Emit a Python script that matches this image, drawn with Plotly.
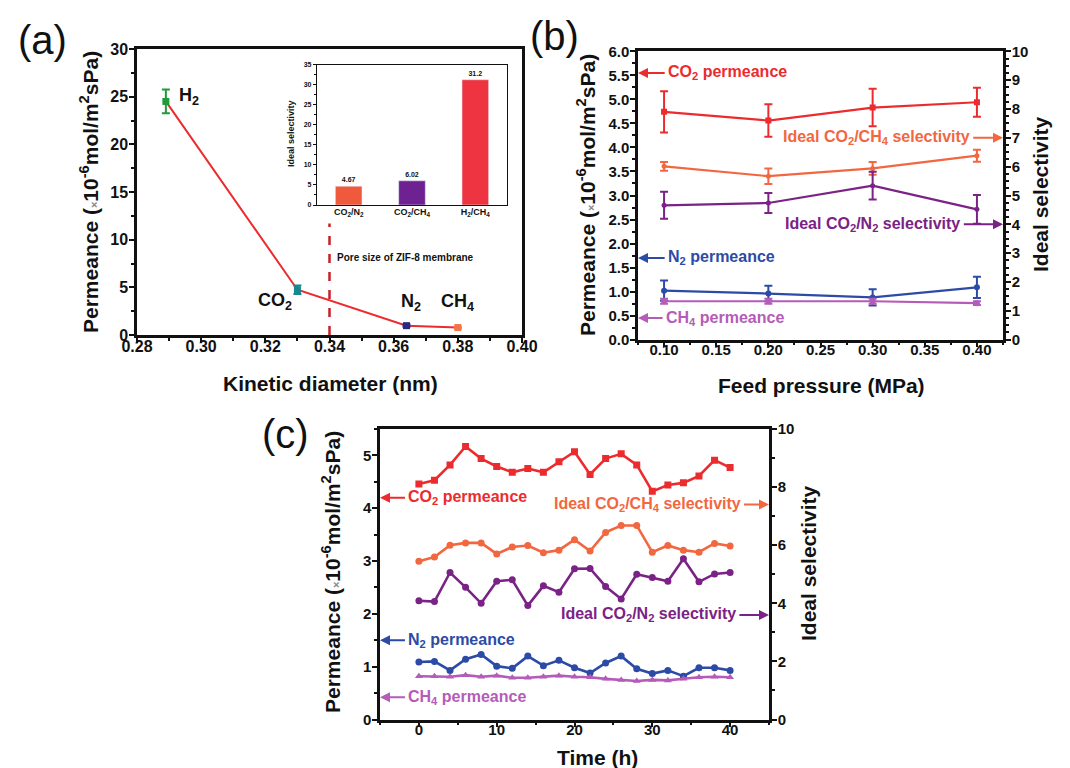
import plotly.graph_objects as go

# ---------------- data ----------------
# (a) permeance vs kinetic diameter
gases_a = ["H2", "CO2", "N2", "CH4"]
kin_diam = [0.289, 0.330, 0.364, 0.380]
perm_a = [24.5, 4.75, 0.98, 0.78]
perm_a_err = [1.25, 0.45, 0.12, 0.06]
pore_size = 0.34
pore_line_top = 11.7

# (a) inset
inset_cats = ["CO<sub>2</sub>/N<sub>2</sub>", "CO<sub>2</sub>/CH<sub>4</sub>", "H<sub>2</sub>/CH<sub>4</sub>"]
inset_vals = [4.67, 6.02, 31.2]
inset_text = ["4.67", "6.02", "31.2"]

# (b) feed pressure
pressure = [0.10, 0.20, 0.30, 0.40]
co2_b = [4.74, 4.56, 4.83, 4.94]
co2_b_err = [0.43, 0.34, 0.39, 0.30]
n2_b = [1.02, 0.96, 0.88, 1.09]
n2_b_err = [0.21, 0.16, 0.17, 0.22]
ch4_b = [0.80, 0.80, 0.80, 0.76]
ch4_b_err = [0.05, 0.05, 0.05, 0.04]
selCH4_b = [6.01, 5.67, 5.94, 6.38]
selCH4_b_err = [0.15, 0.27, 0.22, 0.21]
selN2_b = [4.66, 4.74, 5.34, 4.52]
selN2_b_err = [0.47, 0.35, 0.48, 0.50]

# (c) time stability
time_h = [0, 2, 4, 6, 8, 10, 12, 14, 16, 18, 20, 22, 24, 26, 28, 30, 32, 34, 36, 38, 40]
co2_c = [4.46, 4.53, 4.82, 5.17, 4.94, 4.79, 4.68, 4.75, 4.68, 4.88, 5.07, 4.64, 4.94, 5.03, 4.82,
         4.32, 4.44, 4.48, 4.61, 4.91, 4.77]
n2_c = [1.09, 1.10, 0.93, 1.14, 1.23, 1.01, 0.97, 1.20, 1.02, 1.12, 0.98, 0.88, 1.07, 1.20, 0.96,
        0.87, 0.93, 0.82, 0.98, 0.98, 0.93]
ch4_c = [0.82, 0.82, 0.81, 0.84, 0.81, 0.83, 0.79, 0.79, 0.81, 0.83, 0.81, 0.80, 0.77, 0.75, 0.73,
         0.75, 0.74, 0.77, 0.80, 0.81, 0.80]
selCH4_c = [5.45, 5.59, 6.00, 6.08, 6.08, 5.70, 5.94, 5.99, 5.74, 5.83, 6.19, 5.80, 6.44, 6.68, 6.68,
            5.76, 5.99, 5.83, 5.76, 6.06, 5.97]
selN2_c = [4.09, 4.06, 5.06, 4.55, 4.00, 4.76, 4.81, 3.92, 4.60, 4.38, 5.19, 5.20, 4.58, 4.15, 5.00,
           4.89, 4.76, 5.53, 4.74, 5.01, 5.06]

# ---------------- styles ----------------
FONT = "Liberation Sans, Arial, sans-serif"
RED = "#ec2b2e"
ORANGE = "#f2673f"
PURPLE = "#7a2286"
BLUE = "#2c4ba6"
MAGENTA = "#b55bb8"
BLACK = "#111111"

W, H = 1070, 768


def px2x(p):
    return p / W


def px2y(p):
    return 1 - p / H


def tickfont(size=16):
    return dict(family=FONT, size=size, color=BLACK, weight="bold")


def minor(dtick, ticklen=3, width=2):
    return dict(dtick=dtick, ticks="outside", ticklen=ticklen, tickcolor=BLACK, tickwidth=width)


def axis_common(**kw):
    d = dict(showline=True, linecolor=BLACK, linewidth=2.5, ticks="outside", ticklen=5,
             tickwidth=2, tickcolor=BLACK, showgrid=False, zeroline=False, automargin=False,
             tickfont=tickfont())
    d.update(kw)
    return d


fig = go.Figure()

# ---------------- panel (a) ----------------
fig.add_trace(go.Scatter(x=kin_diam, y=perm_a, mode="lines", line=dict(color=RED, width=2),
                         xaxis="x", yaxis="y", showlegend=False, hoverinfo="skip"))
gas_colors = ["#1f9a3c", "#17888c", "#262a80", "#f27447"]
for i, g in enumerate(gases_a):
    fig.add_trace(go.Scatter(x=[kin_diam[i]], y=[perm_a[i]], mode="markers",
                             marker=dict(symbol="square", size=7, color=gas_colors[i]),
                             error_y=dict(type="data", array=[perm_a_err[i]], color=gas_colors[i],
                                          thickness=2, width=4),
                             xaxis="x", yaxis="y", showlegend=False, name=g))
fig.add_trace(go.Scatter(x=[pore_size, pore_size], y=[0, pore_line_top], mode="lines",
                         line=dict(color="#c8202a", width=2.5, dash="dash"),
                         xaxis="x", yaxis="y", showlegend=False, hoverinfo="skip"))

# inset bars
fig.add_trace(go.Bar(x=inset_cats, y=inset_vals, marker=dict(color=["#f05a3c", "#6e2191", "#ee3440"]),
                     width=0.42, text=inset_text, textposition="outside",
                     textfont=dict(family=FONT, size=7, color=BLACK, weight="bold"),
                     cliponaxis=False, xaxis="x2", yaxis="y2", showlegend=False))

# ---------------- panel (b) ----------------
def b_trace(y, err, color, symbol, yaxis, size=6):
    return go.Scatter(x=pressure, y=y, mode="lines+markers", line=dict(color=color, width=2.2),
                      marker=dict(symbol=symbol, size=size, color=color),
                      error_y=dict(type="data", array=err, color=color, thickness=2, width=4),
                      xaxis="x3", yaxis=yaxis, showlegend=False)


fig.add_trace(b_trace(co2_b, co2_b_err, RED, "square", "y3"))
fig.add_trace(b_trace(n2_b, n2_b_err, BLUE, "circle", "y3"))
fig.add_trace(b_trace(ch4_b, ch4_b_err, MAGENTA, "circle", "y3"))
fig.add_trace(b_trace(selCH4_b, selCH4_b_err, ORANGE, "circle", "y4", 5))
fig.add_trace(b_trace(selN2_b, selN2_b_err, PURPLE, "circle", "y4", 5))

# ---------------- panel (c) ----------------
def c_trace(y, color, symbol, yaxis, size=7):
    return go.Scatter(x=time_h, y=y, mode="lines+markers", line=dict(color=color, width=2.6),
                      marker=dict(symbol=symbol, size=size, color=color),
                      xaxis="x4", yaxis=yaxis, showlegend=False)


fig.add_trace(c_trace(co2_c, RED, "square", "y5", 7))
fig.add_trace(c_trace(n2_c, BLUE, "circle", "y5", 7))
fig.add_trace(c_trace(ch4_c, MAGENTA, "triangle-up", "y5", 7))
fig.add_trace(c_trace(selCH4_c, ORANGE, "circle", "y6", 7))
fig.add_trace(c_trace(selN2_c, PURPLE, "circle", "y6", 7))

# ---------------- axes ----------------
XSTAND = -10
YSTAND = -2
fig.update_layout(
    # (a)
    xaxis=axis_common(domain=[px2x(129), px2x(514)], range=[0.28, 0.40], dtick=0.02, tick0=0.28,
                      tickformat=".2f", mirror=True, anchor="y", ticklabelstandoff=XSTAND,
                      minor=minor(0.01)),
    yaxis=axis_common(domain=[px2y(327), px2y(41)], range=[0, 30], dtick=5, mirror=True, anchor="x",
                      ticklabelstandoff=YSTAND, minor=minor(2.5)),
    # inset
    xaxis2=axis_common(domain=[px2x(309), px2x(499)], anchor="y2", mirror=True, linewidth=1.2,
                       ticks="", tickfont=tickfont(9), type="category", ticklabelstandoff=-2),
    yaxis2=axis_common(domain=[px2y(197), px2y(56.5)], range=[0, 35], dtick=5, anchor="x2",
                       mirror=True, linewidth=1.2, ticklen=3, tickwidth=1, tickfont=tickfont(7),
                       minor=minor(2.5, 2, 1)),
    # (b)
    xaxis3=axis_common(domain=[px2x(630), px2x(995)], range=[0.075, 0.425], dtick=0.05, tick0=0.1,
                       tickformat=".2f", anchor="y3", mirror=True, tickfont=tickfont(15),
                       ticklabelstandoff=XSTAND, minor=minor(0.025)),
    yaxis3=axis_common(domain=[px2y(331.7), px2y(43.3)], range=[0, 6], dtick=0.5, tickformat=".1f",
                       anchor="x3", tickfont=tickfont(15), ticklabelstandoff=YSTAND,
                       minor=minor(0.25)),
    yaxis4=axis_common(range=[0, 10], dtick=1, overlaying="y3", side="right", anchor="x3",
                       tickfont=tickfont(15), ticklabelstandoff=YSTAND, minor=minor(0.25)),
    # (c)
    xaxis4=axis_common(domain=[px2x(372), px2x(761)], range=[-5, 45], dtick=10, tick0=0,
                       anchor="y5", mirror=True, tickfont=tickfont(15), ticklabelstandoff=XSTAND,
                       minor=minor(5)),
    yaxis5=axis_common(domain=[px2y(711.5), px2y(421)], range=[0, 5.5], dtick=1, anchor="x4",
                       tickfont=tickfont(15), ticklabelstandoff=YSTAND, minor=minor(0.5)),
    yaxis6=axis_common(range=[0, 10], dtick=2, overlaying="y5", side="right", anchor="x4",
                       tickfont=tickfont(15), ticklabelstandoff=YSTAND, minor=minor(1)),
)

# ---------------- annotations ----------------
ann = []
PERM_TITLE = ("<b>Permeance (<span style='font-size:11px;color:#888'>×</span>10<sup>-6</sup>"
              "mol/m<sup>2</sup>sPa)</b>")


def text_ann(text, x, y, xref="paper", yref="paper", size=21, color=BLACK, xanchor="center",
             yanchor="middle", angle=0, weight="bold"):
    ann.append(dict(text=text, x=x, y=y, xref=xref, yref=yref, showarrow=False, xanchor=xanchor,
                    yanchor=yanchor, textangle=angle,
                    font=dict(family=FONT, size=size, color=color, weight=weight)))


def arrow_ann(x_head, x_tail, y, xref, yref, color):
    ann.append(dict(text="", x=x_head, y=y, ax=x_tail, ay=y, xref=xref, yref=yref,
                    axref=xref, ayref=yref, showarrow=True, arrowhead=2, arrowsize=1,
                    arrowwidth=2, arrowcolor=color, standoff=0, startstandoff=0))


# panel labels
text_ann("(a)", px2x(8), px2y(32), size=40, xanchor="left", weight="normal")
text_ann("(b)", px2x(520), px2y(28), size=40, xanchor="left", weight="normal")
text_ann("(c)", px2x(252), px2y(426), size=40, xanchor="left", weight="normal")

# axis titles (a)
text_ann("<b>Kinetic diameter (nm)</b>", px2x(322), px2y(376))
text_ann(PERM_TITLE, px2x(81), px2y(184), angle=-90)
text_ann("<b>Ideal selectivity</b>", px2x(283), px2y(126), size=9, angle=-90)
# axis titles (b)
text_ann("<b>Feed pressure (MPa)</b>", px2x(813), px2y(377))
text_ann(PERM_TITLE, px2x(578), px2y(187), angle=-90)
text_ann("<b>Ideal selectivity</b>", px2x(1032), px2y(186), angle=-90)
# axis titles (c)
text_ann("<b>Time (h)</b>", px2x(589), px2y(749))
text_ann(PERM_TITLE, px2x(323), px2y(564), angle=-90)
text_ann("<b>Ideal selectivity</b>", px2x(800), px2y(555), angle=-90)

# (a) gas labels
text_ann("H<sub>2</sub>", 0.2925, 25.0, "x", "y", size=18, xanchor="left")
text_ann("CO<sub>2</sub>", 0.3288, 3.5, "x", "y", size=18, xanchor="right")
text_ann("N<sub>2</sub>", 0.3654, 3.4, "x", "y", size=18)
text_ann("CH<sub>4</sub>", 0.3800, 3.4, "x", "y", size=18)
text_ann("Pore size of ZIF-8 membrane", 0.3418, 8.1, "x", "y", size=10, xanchor="left")

# (b) series labels
text_ann("CO<sub>2</sub> permeance", 0.102, 5.55, "x3", "y3", size=16, color=RED, xanchor="left")
arrow_ann(0.075, 0.102, 5.55, "x3", "y3", RED)
text_ann("N<sub>2</sub> permeance", 0.102, 1.70, "x3", "y3", size=16, color=BLUE, xanchor="left")
arrow_ann(0.075, 0.102, 1.70, "x3", "y3", BLUE)
text_ann("CH<sub>4</sub> permeance", 0.1, 0.45, "x3", "y3", size=16, color=MAGENTA, xanchor="left")
arrow_ann(0.075, 0.1, 0.45, "x3", "y3", MAGENTA)
text_ann("Ideal CO<sub>2</sub>/CH<sub>4</sub> selectivity", 0.395, 7.0, "x3", "y4", size=16,
         color=ORANGE, xanchor="right")
arrow_ann(0.425, 0.395, 7.0, "x3", "y4", ORANGE)
text_ann("Ideal CO<sub>2</sub>/N<sub>2</sub> selectivity", 0.386, 4.0, "x3", "y4", size=16,
         color=PURPLE, xanchor="right")
arrow_ann(0.425, 0.386, 4.0, "x3", "y4", PURPLE)

# (c) series labels
text_ann("CO<sub>2</sub> permeance", -1.6, 4.2, "x4", "y5", size=16, color=RED, xanchor="left")
arrow_ann(-5, -1.6, 4.2, "x4", "y5", RED)
text_ann("N<sub>2</sub> permeance", -1.6, 1.5, "x4", "y5", size=16, color=BLUE, xanchor="left")
arrow_ann(-5, -1.6, 1.5, "x4", "y5", BLUE)
text_ann("CH<sub>4</sub> permeance", -1.6, 0.42, "x4", "y5", size=16, color=MAGENTA, xanchor="left")
arrow_ann(-5, -1.6, 0.42, "x4", "y5", MAGENTA)
text_ann("Ideal CO<sub>2</sub>/CH<sub>4</sub> selectivity", 41.6, 7.4, "x4", "y6", size=16,
         color=ORANGE, xanchor="right")
arrow_ann(45, 41.6, 7.4, "x4", "y6", ORANGE)
text_ann("Ideal CO<sub>2</sub>/N<sub>2</sub> selectivity", 41.0, 3.6, "x4", "y6", size=16,
         color=PURPLE, xanchor="right")
arrow_ann(45, 41.0, 3.6, "x4", "y6", PURPLE)

fig.update_layout(
    annotations=ann,
    width=W, height=H,
    margin=dict(l=0, r=0, t=0, b=0),
    paper_bgcolor="white", plot_bgcolor="rgba(0,0,0,0)",
    font=dict(family=FONT, color=BLACK),
    showlegend=False,
    bargap=0.5,
)

fig.write_html("out.html")
